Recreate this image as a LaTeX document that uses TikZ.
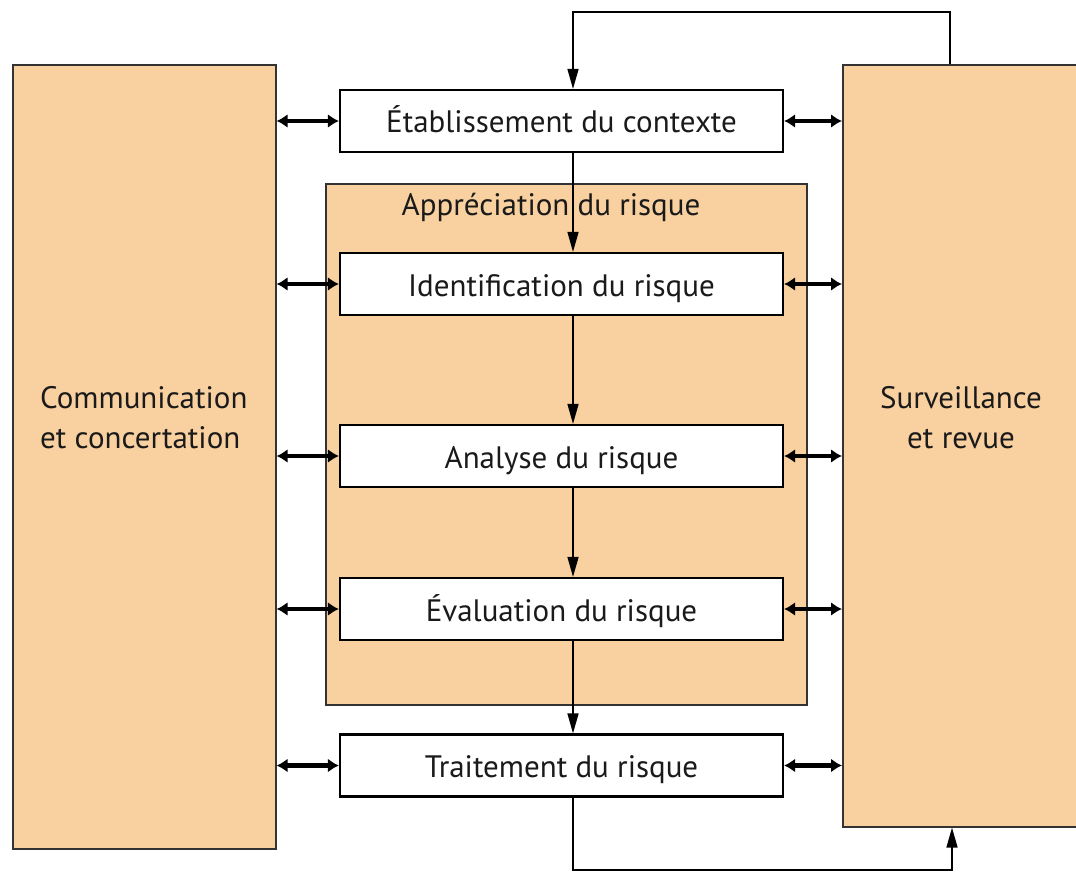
\documentclass[tikz,border=0pt]{standalone}
\usepackage{fontspec}
\setmainfont{PT Sans}
\usetikzlibrary{arrows.meta}
\definecolor{peach}{HTML}{F9D1A0}
\definecolor{edgegray}{HTML}{333333}
\definecolor{ink}{HTML}{1A1A1A}
\begin{document}
\begin{tikzpicture}[x=1pt,y=-1pt,
  box/.style={draw=black,line width=2.2pt,fill=white,minimum width=443pt,minimum height=62pt,inner sep=0pt,text height=24pt,text depth=0pt,text=ink,font=\fontsize{31}{34}\selectfont},
  side/.style={draw=edgegray,line width=1.6pt,fill=peach,inner sep=0pt,anchor=north west},
  lbl/.style={font=\fontsize{31}{40}\selectfont,text=ink,inner sep=0pt},
  flow/.style={line width=1.5pt,-{Triangle[length=20pt,width=11pt]}},
  dbl/.style={line width=4.5pt,{Latex[length=11pt,width=14pt]}-{Latex[length=11pt,width=14pt]}}]
\useasboundingbox (0,0) rectangle (1076,872);
\fill[white] (0,0) rectangle (1076,872);
% side boxes
\node[side,minimum width=263pt,minimum height=784pt] (comm) at (12,64) {};
\node[side,minimum width=250pt,minimum height=762pt] (surv) at (842,64) {};
\node[lbl,align=left,anchor=west] (commtext) at (40,418) {Communication\\et concertation};
\node[lbl,align=center] (survtext) at (961,418) {Surveillance\\et revue};
% assessment frame
\node[side,minimum width=481pt,minimum height=521pt] (frame) at (325,183) {};
\node[lbl] (title) at (551,207) {Appréciation du risque};
% process boxes
\node[box] (etab) at (561.5,121) {Établissement du contexte};
\node[box] (ident) at (561.5,284) {Identification du risque};
\node[box] (anal) at (561.5,456) {Analyse du risque};
\node[box] (eval) at (561.5,609) {Évaluation du risque};
\node[box] (trait) at (561.5,765.5) {Traitement du risque};
% vertical flow
\coordinate (ax) at (573,0);
\draw[flow] (etab.south -| ax) -- (ident.north -| ax);
\draw[flow] (ident.south -| ax) -- (anal.north -| ax);
\draw[flow] (anal.south -| ax) -- (eval.north -| ax);
\draw[flow] (eval.south -| ax) -- (trait.north -| ax);
% loops
\coordinate (tr) at (950,12);
\coordinate (tl) at (573,12);
\coordinate (bl) at (573,870);
\coordinate (br) at (952,870);
\draw[flow] (surv.north -| tr) -- (tr) -- (tl) -- (etab.north -| tl);
\draw[flow] (trait.south -| bl) -- (bl) -- (br) -- (surv.south -| br);
% double arrows
\foreach \b in {etab,ident,anal,eval,trait}{
  \draw[dbl] (comm.east |- \b.west) -- (\b.west);
  \draw[dbl] (\b.east) -- (surv.west |- \b.east);
}
\end{tikzpicture}
\end{document}
